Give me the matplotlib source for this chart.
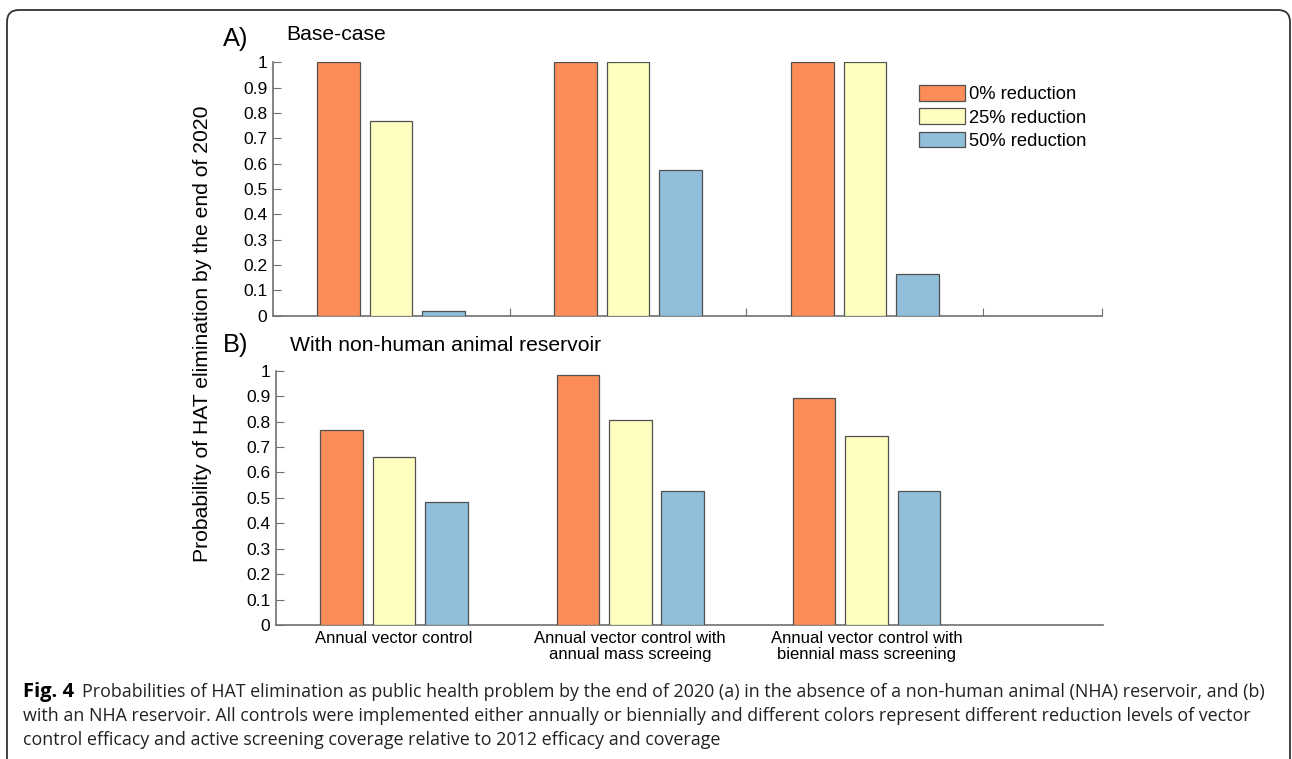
import numpy as np
import matplotlib
matplotlib.use('Agg')
from matplotlib import pyplot as plt
from matplotlib.patches import FancyBboxPatch
from matplotlib.transforms import IdentityTransform

plt.rcParams['font.family'] = ['Liberation Sans', 'DejaVu Sans']

categories = ['Annual vector control',
              'Annual vector control with\nannual mass screeing',
              'Annual vector control with\nbiennial mass screening']
series = ['0% reduction', '25% reduction', '50% reduction']
colors = ['#FC8D59', '#FFFFBF', '#91BFDB']

base_case = [[1.0, 1.0, 1.0],
             [0.77, 1.0, 1.0],
             [0.02, 0.574, 0.163]]
with_nha = [[0.767, 0.983, 0.893],
            [0.662, 0.806, 0.744],
            [0.484, 0.527, 0.527]]

W, H = 1292, 759
fig = plt.figure(figsize=(W / 100, H / 100), dpi=100)


def px_axes(left, right, top, bottom):
    return fig.add_axes([left / W, 1 - bottom / H, (right - left) / W, (bottom - top) / H])


ax1 = px_axes(272.7, 1101.7, 62.3, 315.7)
ax2 = px_axes(275.7, 1103, 370.7, 625)

x = np.arange(1, len(categories) + 1)
offsets = [-0.222, 0, 0.222]
width = 0.18

for ax, data in [(ax1, base_case), (ax2, with_nha)]:
    for vals, off, col, lab in zip(data, offsets, colors, series):
        ax.bar(x + off, vals, width, color=col, edgecolor='#505050',
               linewidth=0.9, label=lab, zorder=3)
    ax.set_xlim(0.5, 4.0)
    ax.set_ylim(0, 1)
    ax.set_yticks(np.arange(0, 1.01, 0.1))
    ax.set_yticklabels(['0', '0.1', '0.2', '0.3', '0.4', '0.5', '0.6',
                        '0.7', '0.8', '0.9', '1'])
    for s in ['top', 'right']:
        ax.spines[s].set_visible(False)
    for s in ['left', 'bottom']:
        ax.spines[s].set_color('#707070')
        ax.spines[s].set_linewidth(1.2)
    ax.tick_params(axis='y', direction='in', length=6, color='#707070',
                   labelsize=12.5, pad=4)

ax1.set_xticks([1.5, 2.5, 3.5, 4.0])
ax1.set_xticklabels([])
ax1.tick_params(axis='x', direction='in', length=6, color='#707070')

ax2.set_xticks(x)
ax2.set_xticklabels(categories, fontsize=12, linespacing=1.1)
ax2.tick_params(axis='x', length=0, pad=4)

ax1.legend(loc='upper left', bbox_to_anchor=(918.7 / W, 1 - 85 / H),
           bbox_transform=fig.transFigure, frameon=False, fontsize=13.2,
           handlelength=2.5, handleheight=0.95, handletextpad=0.25,
           labelspacing=0.28, borderpad=0, borderaxespad=0)

fig.text(236 / W, 1 - 39 / H, 'A)', fontsize=18.4, ha='center', va='center')
fig.text(286.7 / W, 1 - 35 / H, 'Base-case', fontsize=15.2, ha='left', va='center')
fig.text(236 / W, 1 - 345 / H, 'B)', fontsize=18.4, ha='center', va='center')
fig.text(290 / W, 1 - 345 / H, 'With non-human animal reservoir', fontsize=15.2,
         ha='left', va='center')
fig.text(202 / W, 1 - 333.5 / H, 'Probability of HAT elimination by the end of 2020',
         fontsize=15.2, rotation=90, ha='center', va='center')

# caption
cap_font = ['Open Sans', 'DejaVu Sans']
fig.text(22.7 / W, 1 - 691.7 / H, 'Fig. 4', fontsize=14.5, fontweight='bold',
         family=cap_font, ha='left', va='center')
caption = ['Probabilities of HAT elimination as public health problem by the end of 2020 (a) in the absence of a non-human animal (NHA) reservoir, and (b)',
           'with an NHA reservoir. All controls were implemented either annually or biennially and different colors represent different reduction levels of vector',
           'control efficacy and active screening coverage relative to 2012 efficacy and coverage']
cap_x = [82.3, 22.7, 22.7]
cap_y = [691.7, 715.7, 740]
for line, cx, cy in zip(caption, cap_x, cap_y):
    fig.text(cx / W, 1 - cy / H, line, fontsize=12.9, family=cap_font,
             color='#222222', ha='left', va='center')

# rounded frame around the figure, open at the bottom
frame = FancyBboxPatch((7, -40), 1283, H - 10 + 40,
                       boxstyle='round,pad=0,rounding_size=12',
                       transform=IdentityTransform(), facecolor='none',
                       edgecolor='#333333', linewidth=1.3)
fig.patches.append(frame)

fig.savefig('out.png', dpi=100)
